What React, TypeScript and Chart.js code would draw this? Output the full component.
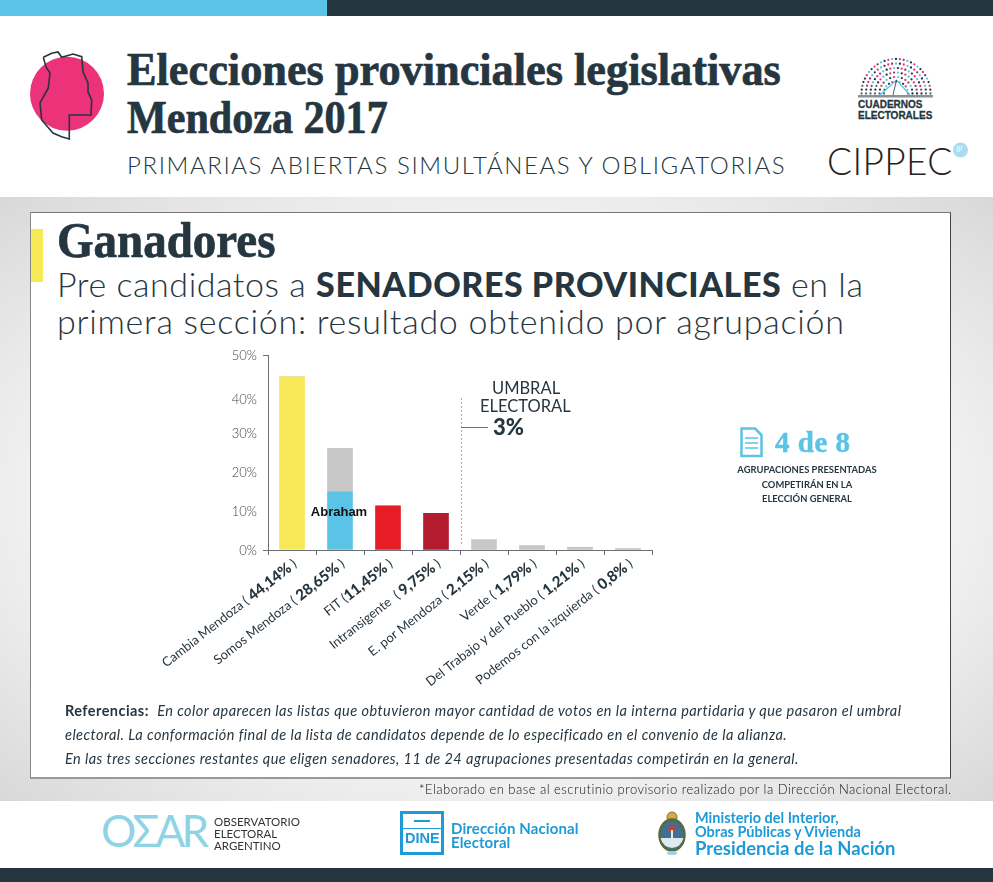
import React, { useEffect, useRef } from "react";
import { Chart, registerables } from "chart.js";

Chart.register(...registerables);

const categories = ["Cambia Mendoza", "Somos Mendoza", "FIT", "Intransigente", "E. por Mendoza", "Verde", "Del Trabajo y del Pueblo", "Podemos con la izquierda"];
const labelPrefix = ["Cambia Mendoza ( ", "Somos Mendoza ( ", "FIT (", "Intransigente  ( ", "E. por Mendoza ( ", "Verde ( ", "Del Trabajo y del Pueblo ( ", "Podemos con la izquierda ( "];
const labelValue = ["44,14%", "28,65%", "11,45%", "9,75%", "2,15%", "1,79%", "1,21%", "0,8%"];
const labelSuffix = [" )", " )", " )", " )", " )", " )", " )", " )"];
const winnerValues = [44.4, 14.9, 11.3, 9.4, 2.6, 1.1, 0.7, 0.4];
const restValues = [0, 11.2, 0, 0, 0, 0, 0, 0];
const barColors = ["#f7e957", "#5bc4e6", "#e71d25", "#b51b2e", "#c8c8c8", "#c8c8c8", "#c8c8c8", "#c8c8c8"];
const yTicks = [0, 10, 20, 30, 40, 50];
const DARK = "#263640";
const BLUE = "#1e9ad6";
const BODY = "Lato, 'Open Sans', sans-serif";
const SERIF = "'Liberation Serif', serif";

const overlayPlugin = {
  id: "overlay",
  afterDraw(chart: any) {
    const { ctx, scales } = chart;
    const x = scales.x;
    const y = scales.y;
    ctx.save();
    ctx.font = "300 13px Lato";
    ctx.fillStyle = "#3c424a";
    ctx.textAlign = "right";
    ctx.textBaseline = "middle";
    yTicks.forEach((t) => {
      const nudge = t === 40 ? 6 : 1;
      ctx.fillText(`${t}%`, x.left - 11, y.getPixelForValue(t) + nudge);
    });
    categories.forEach((_, i) => {
      ctx.save();
      ctx.translate(x.getPixelForValue(i) + 3, 562);
      ctx.rotate((-38 * Math.PI) / 180);
      ctx.textBaseline = "middle";
      ctx.textAlign = "left";
      ctx.fillStyle = DARK;
      const reg = "13px Lato";
      const bold = "900 15px Lato";
      ctx.font = reg;
      const w1 = ctx.measureText(labelPrefix[i]).width;
      const w3 = ctx.measureText(labelSuffix[i]).width;
      ctx.font = bold;
      const w2 = ctx.measureText(labelValue[i]).width;
      const start = -(w1 + w2 + w3);
      ctx.font = reg;
      ctx.fillText(labelPrefix[i], start, 0);
      ctx.fillText(labelSuffix[i], start + w1 + w2, 0);
      ctx.font = bold;
      ctx.fillText(labelValue[i], start + w1, 0);
      ctx.restore();
    });
    ctx.font = "bold 13px 'Liberation Sans'";
    ctx.fillStyle = "#111";
    ctx.textAlign = "center";
    ctx.fillText("Abraham", x.getPixelForValue(1) - 1, y.getPixelForValue(9.7));
    const tx = (x.getPixelForValue(3) + x.getPixelForValue(4)) / 2 + 1;
    ctx.strokeStyle = "#adadad";
    ctx.lineWidth = 1;
    ctx.setLineDash([2, 2]);
    ctx.beginPath();
    ctx.moveTo(tx + 0.5, 398);
    ctx.lineTo(tx + 0.5, 546);
    ctx.stroke();
    ctx.setLineDash([]);
    ctx.strokeStyle = "#6a7278";
    ctx.beginPath();
    ctx.moveTo(tx, 427.5);
    ctx.lineTo(tx + 27, 427.5);
    ctx.stroke();
    ctx.restore();
  },
};

const Txt = ({ x, y, style, children }: any) => (
  <div style={{ position: "absolute", left: x, top: y, whiteSpace: "nowrap", lineHeight: 1, color: DARK, fontFamily: BODY, transformOrigin: "left top", ...style }}>{children}</div>
);

const dotPalette = ["#263640", "#ec3278", "#5bc4e6", "#263640", "#ec3278", "#8a3a5c", "#5bc4e6"];
const Parliament = () => {
  const dots: any[] = [];
  [12, 16.5, 21, 25.5, 30, 34.5].forEach((r, ri) => {
    const n = Math.round((Math.PI * r) / 3.9);
    for (let i = 0; i <= n; i++) {
      const a = Math.PI - (Math.PI * i) / n;
      const c = a > 2.75 || a < 0.2 ? (i % 2 ? "#263640" : "#5b6770") : dotPalette[(i + ri * 2) % dotPalette.length];
      dots.push(<circle key={`${r}-${i}`} cx={896 + r * Math.cos(a)} cy={93.5 - r * Math.sin(a)} r={1.15} fill={c} />);
    }
  });
  return <g>{dots}</g>;
};

export default function App() {
  const ref = useRef<HTMLCanvasElement>(null);
  useEffect(() => {
    const chart = new Chart(ref.current!, {
      type: "bar",
      data: {
        labels: categories,
        datasets: [
          { data: winnerValues, backgroundColor: barColors, barThickness: 25, stack: "a" },
          { data: restValues, backgroundColor: "#c8c8c8", barThickness: 25, stack: "a" },
        ],
      },
      options: {
        animation: false,
        responsive: false,
        layout: { padding: { left: 263, right: 341, top: 355, bottom: 327 } },
        plugins: { legend: { display: false }, tooltip: { enabled: false } },
        scales: {
          x: {
            stacked: true,
            ticks: { display: false },
            grid: { drawOnChartArea: false, color: "#6b7078", tickLength: 5, tickWidth: 1 },
            border: { color: "#6b7078" },
          },
          y: {
            stacked: true,
            min: 0,
            max: 50,
            ticks: { display: false, stepSize: 10 },
            grid: { drawOnChartArea: false, tickLength: 5, color: (c: any) => (c.tick.value === 0 || c.tick.value === 50 ? "#6b7078" : "transparent") },
            border: { color: "#6b7078" },
          },
        },
      },
      plugins: [overlayPlugin],
    } as any);
    return () => chart.destroy();
  }, []);

  const heavy = { fontFamily: SERIF, fontWeight: 700, WebkitTextStroke: "0.7px " + DARK };

  return (
    <div style={{ position: "absolute", left: 0, top: 0, width: 993, height: 882, background: "#fff", overflow: "hidden" }}>
      <div style={{ position: "absolute", left: 0, top: 0, width: 327, height: 16, background: "#5bc4e6" }} />
      <div style={{ position: "absolute", left: 327, top: 0, width: 666, height: 16, background: DARK }} />
      <div style={{ position: "absolute", left: 0, top: 197, width: 993, height: 604, background: "radial-gradient(ellipse at center, #ffffff 45%, #d8d8d8 100%)" }} />
      <div style={{ position: "absolute", left: 30, top: 212, width: 921, height: 567, background: "#fff", borderTop: "1px solid #777", borderLeft: "1px solid #888", borderRight: "1px solid #444", borderBottom: "2px solid #999", boxSizing: "border-box" }} />
      <div style={{ position: "absolute", left: 31, top: 229, width: 12, height: 53, background: "#f7e957" }} />
      <div style={{ position: "absolute", left: 0, top: 868, width: 993, height: 14, background: DARK }} />

      <svg width={993} height={882} style={{ position: "absolute", left: 0, top: 0 }}>
        <circle cx={67} cy={93.7} r={37} fill="#ec3278" />
        <polyline points="43.3,57.3 51.7,53.3 58,52 61.7,57.3 73,54 81.7,56.7 83,71.7 88,83 88,92 91.7,100 91,115 69.3,115 69.3,139 61.7,136.7 53,133 41.7,120 40,103 48.3,88 50,73 46,67 43.3,57.3" fill="none" stroke={DARK} strokeWidth={1.6} />
        <Parliament />
        <rect x={858} y={95} width={75} height={2.5} fill="#8a9298" />
        <polyline points="880,95 896.5,80 910,95" fill="none" stroke="#5bc4e6" strokeWidth={1.2} />
        <line x1={896.5} y1={80} x2={893} y2={95} stroke="#263640" strokeWidth={0.8} />
        <circle cx={960.5} cy={150} r={7.5} fill="#a8dcee" />
        <text x={101} y={847} fontFamily="Lato" fontWeight={400} fontSize={44} fill="#8fd3e4" textLength={108}>OΣAR</text>
        <rect x={401.5} y={812.5} width={41} height={41} fill="#fff" stroke={BLUE} strokeWidth={3} />
        <rect x={414} y={820} width={16} height={2} fill={BLUE} />
        <rect x={403} y={828} width={38} height={1} fill={BLUE} />
        <circle cx={672} cy={817} r={5} fill="#d8a93b" stroke="#6b7a45" strokeWidth={1} />
        <ellipse cx={672} cy={835} rx={12.5} ry={15.5} fill="#3f6f92" stroke="#5b6a3a" strokeWidth={2.5} />
        <path d="M660.5 838 H683.5 A12 14 0 0 1 660.5 838 Z" fill="#dfeaf0" />
        <circle cx={672} cy={829} r={3.5} fill="#c6402f" />
        <rect x={671} y={830} width={2} height={10} fill="#e8e8e8" />
        <ellipse cx={672} cy={853} rx={5} ry={2} fill="#9fd2ea" />
      </svg>

      <Txt x={127} y={47} style={{ ...heavy, fontSize: 46, transform: "scaleX(0.963)" }}>Elecciones provinciales legislativas</Txt>
      <Txt x={127} y={95} style={{ ...heavy, fontSize: 46, transform: "scaleX(0.915)" }}>Mendoza 2017</Txt>
      <Txt x={127} y={153} style={{ fontSize: 24, letterSpacing: 1.6, fontWeight: 300 }}>PRIMARIAS ABIERTAS SIMULTÁNEAS Y OBLIGATORIAS</Txt>
      <Txt x={858} y={99} style={{ fontSize: 11.5, fontWeight: 700, fontFamily: "'Liberation Sans'", transform: "scaleX(0.87)", WebkitTextStroke: "0.3px " + DARK }}>CUADERNOS</Txt>
      <Txt x={858} y={110} style={{ fontSize: 11.5, fontWeight: 700, fontFamily: "'Liberation Sans'", transform: "scaleX(0.87)", WebkitTextStroke: "0.3px " + DARK }}>ELECTORALES</Txt>
      <Txt x={827} y={142} style={{ fontSize: 37, fontWeight: 300, color: "#222", letterSpacing: 0.4 }}>CIPPEC</Txt>
      <Txt x={956} y={146} style={{ fontSize: 7, color: "#fff" }}>IP</Txt>

      <Txt x={57} y={215} style={{ ...heavy, fontSize: 50, transform: "scaleX(0.94)" }}>Ganadores</Txt>
      <Txt x={57} y={267} style={{ fontSize: 34, fontWeight: 300, letterSpacing: 0.55 }}>Pre candidatos a <b style={{ fontWeight: 900 }}>SENADORES PROVINCIALES</b> en la</Txt>
      <Txt x={57} y={304} style={{ fontSize: 34, fontWeight: 300, letterSpacing: 0.73 }}>primera sección: resultado obtenido por agrupación</Txt>

      <canvas ref={ref} width={993} height={882} style={{ position: "absolute", left: 0, top: 0 }} />

      <Txt x={492} y={380} style={{ fontSize: 16.5 }}>UMBRAL</Txt>
      <Txt x={480} y={398} style={{ fontSize: 16.5 }}>ELECTORAL</Txt>
      <Txt x={493} y={416} style={{ fontSize: 22, fontWeight: 900 }}>3%</Txt>

      <svg width={24} height={32} style={{ position: "absolute", left: 740, top: 427 }}>
        <path d="M1.5 1.5 H15 L21.5 8 V29 H1.5 Z" fill="#fff" stroke="#5bc4e6" strokeWidth={2.5} />
        <path d="M5 11 H18 M5 16 H18 M5 21 H18" stroke="#5bc4e6" strokeWidth={1.5} />
      </svg>
      <Txt x={775} y={428} style={{ fontFamily: SERIF, fontWeight: 700, fontSize: 29, color: "#5bc4e6", letterSpacing: 0.5, WebkitTextStroke: "0.5px #5bc4e6" }}>4 de 8</Txt>
      {["AGRUPACIONES PRESENTADAS", "COMPETIRÁN EN LA", "ELECCIÓN GENERAL"].map((t, i) => (
        <div key={t} style={{ position: "absolute", left: 707, width: 200, top: 465 + i * 14.5, textAlign: "center", fontFamily: BODY, fontSize: 9.4, fontWeight: 700, color: DARK, lineHeight: 1, whiteSpace: "nowrap" }}>{t}</div>
      ))}

      <Txt x={65} y={704} style={{ fontSize: 14.5, letterSpacing: 0.45 }}><b>Referencias:</b>&nbsp; <i>En color aparecen las listas que obtuvieron mayor cantidad de votos en la interna partidaria y que pasaron el umbral</i></Txt>
      <Txt x={65} y={728} style={{ fontSize: 14.5, letterSpacing: 0.45, fontStyle: "italic" }}>electoral. La conformación final de la lista de candidatos depende de lo especificado en el convenio de la alianza.</Txt>
      <Txt x={65} y={752} style={{ fontSize: 14.5, letterSpacing: 0.45, fontStyle: "italic" }}>En las tres secciones restantes que eligen senadores, 11 de 24 agrupaciones presentadas competirán en la general.</Txt>
      <Txt x={419} y={783} style={{ fontSize: 13, fontWeight: 300, color: "#111", letterSpacing: 0.47 }}>*Elaborado en base al escrutinio provisorio realizado por la Dirección Nacional Electoral.</Txt>

      <Txt x={214} y={816} style={{ fontSize: 11.5, fontWeight: 400, lineHeight: "12px", color: "#333" }}>OBSERVATORIO<br />ELECTORAL<br />ARGENTINO</Txt>
      <Txt x={405} y={831} style={{ fontSize: 14.5, fontWeight: 700, color: BLUE, fontFamily: "'Liberation Sans'" }}>DINE</Txt>
      <Txt x={451} y={821} style={{ fontSize: 15, fontWeight: 700, color: BLUE, lineHeight: "14px", letterSpacing: 0.1 }}>Dirección Nacional<br />Electoral</Txt>
      <Txt x={695} y={811} style={{ fontSize: 14.5, fontWeight: 700, color: BLUE, lineHeight: "13.5px" }}>Ministerio del Interior,<br />Obras Públicas y Vivienda</Txt>
      <Txt x={695} y={839} style={{ fontSize: 18.5, fontWeight: 700, color: BLUE }}>Presidencia de la Nación</Txt>
    </div>
  );
}
